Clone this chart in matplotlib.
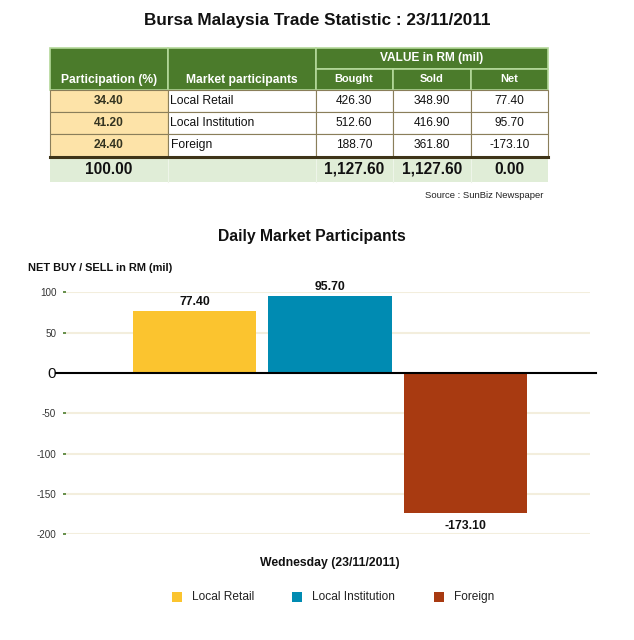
import matplotlib
matplotlib.use("Agg")
import matplotlib.pyplot as plt
from matplotlib.patches import Rectangle
from matplotlib.lines import Line2D

plt.rcParams['font.family'] = ['Liberation Sans', 'DejaVu Sans']

# ---------------- data ----------------
title = "Bursa Malaysia Trade Statistic : 23/11/2011"
participants = ["Local Retail", "Local Institution", "Foreign"]
participation = [34.40, 41.20, 24.40]
bought = [426.30, 512.60, 188.70]
sold = [348.90, 416.90, 361.80]
net = [77.40, 95.70, -173.10]
total_participation = 100.00
total_bought = 1127.60
total_sold = 1127.60
total_net = 0.00
source = "Source : SunBiz Newspaper"
chart_title = "Daily Market Participants"
y_label = "NET BUY / SELL in RM (mil)"
x_label = "Wednesday (23/11/2011)"
y_ticks = [100, 50, 0, -50, -100, -150, -200]
colors = ["#FBC42F", "#008BB2", "#A83A11"]

W, H = 634, 640
fig = plt.figure(figsize=(W / 100, H / 100), dpi=100)

# full-figure overlay in pixel coordinates for the table & texts
ov = fig.add_axes([0, 0, 1, 1])
ov.set_xlim(0, W)
ov.set_ylim(H, 0)
ov.axis("off")

ov.text(317, 21, title, ha="center", va="center", fontsize=12.3, fontweight="bold", color="#111111")

# table geometry (pixels)
cx = [50, 167.5, 315.5, 392.5, 471, 548]
hy = [47.5, 69, 89.5]
ry = [89.5, 111.5, 134, 156.5]
ty = [156.5, 181.5]
hdr_green = "#4B7B2B"
hdr_edge = "#B4D89A"
peach = "#FDE3A8"
tot_green = "#E0EDD7"
grid_col = "#8A7E5A"

def cell(x0, x1, y0, y1, fc, ec, lw=1.0, z=1):
    ov.add_patch(Rectangle((x0, y0), x1 - x0, y1 - y0, facecolor=fc, edgecolor=ec, lw=lw, zorder=z))

cell(cx[0], cx[1], hy[0], hy[2], hdr_green, hdr_edge, 1.2)
cell(cx[1], cx[2], hy[0], hy[2], hdr_green, hdr_edge, 1.2)
cell(cx[2], cx[5], hy[0], hy[1], hdr_green, hdr_edge, 1.2)
for i in range(2, 5):
    cell(cx[i], cx[i + 1], hy[1], hy[2], hdr_green, hdr_edge, 1.2)

ov.text((cx[0] + cx[1]) / 2, 79.5, "Participation (%)", ha="center", va="center", fontsize=8.7, fontweight="bold", color="white")
ov.text((cx[1] + cx[2]) / 2, 79.5, "Market participants", ha="center", va="center", fontsize=8.7, fontweight="bold", color="white")
ov.text((cx[2] + cx[5]) / 2, 58, "VALUE in RM (mil)", ha="center", va="center", fontsize=8.6, fontweight="bold", color="white")
for i, h in enumerate(["Bought", "Sold", "Net"]):
    ov.text((cx[i + 2] + cx[i + 3]) / 2, 79.5, h, ha="center", va="center", fontsize=7.9, fontweight="bold", color="white")

# body rows
for r in range(3):
    y0, y1 = ry[r], ry[r + 1]
    yc = (y0 + y1) / 2
    cell(cx[0], cx[1], y0, y1, peach, grid_col, 0.8)
    for i in range(1, 5):
        cell(cx[i], cx[i + 1], y0, y1, "white", grid_col, 0.8)
    ov.text((cx[0] + cx[1]) / 2, yc, f"{participation[r]:.2f}", ha="center", va="center", fontsize=8.6, fontweight="bold", color="#333320")
    ov.text(cx[1] + 3, yc, participants[r], ha="left", va="center", fontsize=8.7, color="#111111")
    for i, v in enumerate([bought[r], sold[r], net[r]]):
        ov.text((cx[i + 2] + cx[i + 3]) / 2, yc, f"{v:.2f}", ha="center", va="center", fontsize=8.6, color="#111111")

# total row
ov.add_patch(Rectangle((cx[0], ty[0]), cx[5] - cx[0], ty[1] - ty[0], facecolor=tot_green, edgecolor="none", zorder=1))
for i in range(1, 5):
    ov.add_line(Line2D([cx[i], cx[i]], [ty[0], ty[1]], color="#EEF5E9", lw=0.8, zorder=2))
ov.add_line(Line2D([cx[0], cx[5]], [ty[0], ty[0]], color="#3E3418", lw=2.2, zorder=3))
tyc = (ty[0] + ty[1]) / 2 + 0.5
ov.text((cx[0] + cx[1]) / 2, tyc, f"{total_participation:.2f}", ha="center", va="center", fontsize=11.2, fontweight="bold", color="#111111")
for i, v in enumerate([total_bought, total_sold, total_net]):
    ov.text((cx[i + 2] + cx[i + 3]) / 2, tyc, f"{v:,.2f}", ha="center", va="center", fontsize=11.2, fontweight="bold", color="#111111")

ov.text(543, 196, source, ha="right", va="center", fontsize=6.8, color="#222222")

ov.text(312, 237, chart_title, ha="center", va="center", fontsize=11.3, fontweight="bold", color="#111111")
ov.text(28, 268, y_label, ha="left", va="center", fontsize=7.9, fontweight="bold", color="#111111")

# ---------------- bar chart ----------------
left_px, right_px = 66, 590
top_px, bot_px = 292.3, 534.3
ax = fig.add_axes([left_px / W, 1 - bot_px / H, (right_px - left_px) / W, (bot_px - top_px) / H])
ax.set_zorder(2)
ax.patch.set_alpha(0)
xs = list(range(len(net)))
ax.bar(xs, net, width=0.91, color=colors, edgecolor="none", zorder=3)
ax.set_xlim(-0.95, 2.92)
ax.set_ylim(-200, 100)
ax.set_yticks(y_ticks)
ax.set_yticklabels([str(t) for t in y_ticks])
for lbl, t in zip(ax.get_yticklabels(), y_ticks):
    if t == 0:
        lbl.set_fontsize(11)
        lbl.set_color("#111111")
    else:
        lbl.set_fontsize(7.1)
        lbl.set_color("#333333")
ax.tick_params(axis="y", length=2, width=1.2, color="#4B7B2B", pad=5)
ax.set_xticks([])
for s in ax.spines.values():
    s.set_visible(False)
for t in y_ticks:
    if t != 0:
        ax.axhline(t, color="#F3EEDD", lw=1.5, zorder=1)
ax.plot([-0.02, 1.012], [0, 0], transform=ax.get_yaxis_transform(), color="black", lw=1.5, clip_on=False, zorder=4)

for x, v in zip(xs, net):
    if v >= 0:
        ax.annotate(f"{v:.2f}", (x, v), xytext=(0, 2), textcoords="offset points", ha="center", va="bottom",
                    fontsize=8.8, fontweight="bold", color="#111111", annotation_clip=False)
    else:
        ax.annotate(f"{v:.2f}", (x, v), xytext=(0, -5), textcoords="offset points", ha="center", va="top",
                    fontsize=8.8, fontweight="bold", color="#111111", annotation_clip=False)

ov.text(330, 563, x_label, ha="center", va="center", fontsize=8.8, fontweight="bold", color="#111111")

# legend
leg_sq_x = [172, 292, 434]
for sx, c, name in zip(leg_sq_x, colors, participants):
    ov.add_patch(Rectangle((sx, 591.5), 10, 10, facecolor=c, edgecolor="none"))
    ov.text(sx + 20, 597, name, ha="left", va="center", fontsize=8.6, color="#222222")

fig.savefig("out.png", dpi=100)
